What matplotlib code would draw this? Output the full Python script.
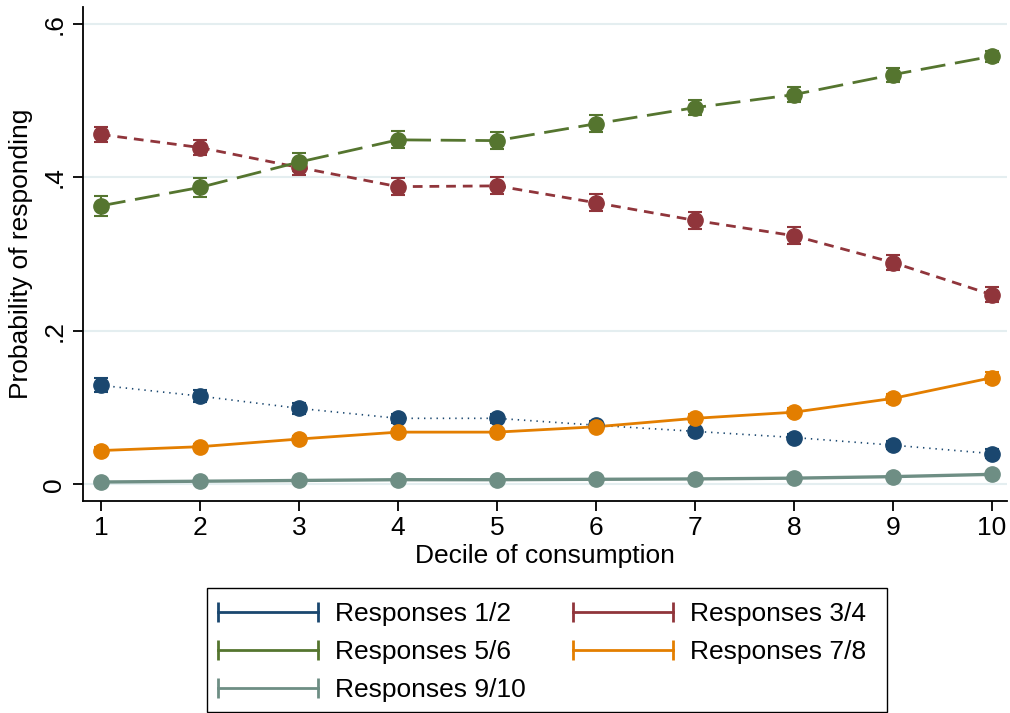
import numpy as np
import matplotlib.pyplot as plt
from matplotlib.lines import Line2D
from matplotlib.legend_handler import HandlerLine2D
from matplotlib.patches import Rectangle

plt.rcParams['font.family'] = ['Liberation Sans', 'DejaVu Sans']
plt.rcParams['lines.scale_dashes'] = False

# ========== 数据 ==========
deciles = [1, 2, 3, 4, 5, 6, 7, 8, 9, 10]

p12 = [0.129, 0.115, 0.099, 0.086, 0.086, 0.077, 0.069, 0.061, 0.051, 0.040]
p34 = [0.456, 0.439, 0.413, 0.388, 0.389, 0.367, 0.344, 0.324, 0.289, 0.247]
p56 = [0.363, 0.387, 0.420, 0.449, 0.448, 0.470, 0.491, 0.508, 0.534, 0.558]
p78 = [0.044, 0.049, 0.059, 0.068, 0.068, 0.075, 0.086, 0.094, 0.112, 0.139]
p910 = [0.003, 0.004, 0.005, 0.006, 0.006, 0.0065, 0.007, 0.008, 0.010, 0.013]

# 置信区间半宽
ci12 = [0.009, 0.008, 0.007, 0.006, 0.006, 0.005, 0.005, 0.005, 0.005, 0.006]
ci34 = [0.010, 0.010, 0.010, 0.011, 0.011, 0.011, 0.011, 0.011, 0.010, 0.010]
ci56 = [0.013, 0.012, 0.012, 0.011, 0.011, 0.011, 0.010, 0.010, 0.009, 0.007]
ci78 = [0.004, 0.004, 0.004, 0.004, 0.004, 0.004, 0.005, 0.005, 0.006, 0.007]
ci910 = [0.002, 0.002, 0.002, 0.002, 0.002, 0.002, 0.002, 0.002, 0.002, 0.003]

labels = ['Responses 1/2', 'Responses 3/4', 'Responses 5/6',
          'Responses 7/8', 'Responses 9/10']
colors = ['#1a476f', '#90353b', '#55752f', '#e37e00', '#6e8e84']
dashes = [(1, 3.5), (7, 5), (18, 7), None, None]
widths = [1.2, 2.0, 2.0, 2.0, 2.4]

yticks = [0, 0.2, 0.4, 0.6]
ytick_labels = ['0', '.2', '.4', '.6']

# ========== 画图 ==========
fig = plt.figure(figsize=(10.1, 7.13), dpi=100)
ax = fig.add_axes([0.0822, 0.2973, 0.9148, 0.6927])

series = [p12, p34, p56, p78, p910]
cis = [ci12, ci34, ci56, ci78, ci910]

for y, e, c, d, w in zip(series, cis, colors, dashes, widths):
    line, = ax.plot(deciles, y, color=c, lw=w, zorder=2)
    if d is not None:
        line.set_dashes(d)
    ax.errorbar(deciles, y, yerr=e, fmt='o', color=c, ms=11,
                elinewidth=1.5, capsize=5, capthick=1.5, zorder=3)

ax.set_xlim(0.82, 10.15)
ax.set_ylim(-0.0218, 0.622)
ax.set_xticks(deciles)
ax.set_yticks(yticks)
ax.set_yticklabels(ytick_labels, rotation=90, va='center')
ax.grid(axis='y', color='#e4eef0', lw=1.5, zorder=0)
ax.set_axisbelow(True)

for s in ['top', 'right']:
    ax.spines[s].set_visible(False)
for s in ['left', 'bottom']:
    ax.spines[s].set_linewidth(1.3)
ax.tick_params(labelsize=19, length=7, width=1.3)
ax.tick_params(axis='y', pad=5)
ax.tick_params(axis='x', pad=4)

ax.set_xlabel('Decile of consumption', fontsize=19, labelpad=3)
ax.set_ylabel('Probability of responding', fontsize=19, labelpad=7)

# 图例（横线 + 两端竖线），按行排列：先列1再列2
handles = [Line2D([], [], color=c, lw=2, marker='|', ms=14, mew=2) for c in colors]
order = [0, 2, 4, 1, 3]
leg = fig.legend([handles[i] for i in order], [labels[i] for i in order],
                 loc='upper left', bbox_to_anchor=(207 / 1010, 1 - 591 / 713),
                 borderaxespad=0, ncol=2, fontsize=19, numpoints=2,
                 handler_map={Line2D: HandlerLine2D(marker_pad=0)},
                 handlelength=3.79, handletextpad=0.64, columnspacing=1.8,
                 labelspacing=0.53, borderpad=0.42, frameon=False)

# 图例外框
fig.patches.append(Rectangle((207 / 1010, 1 / 713), 680 / 1010, 124 / 713,
                             transform=fig.transFigure, fill=False,
                             edgecolor='black', lw=1.0))

fig.savefig('out.png', dpi=100)
